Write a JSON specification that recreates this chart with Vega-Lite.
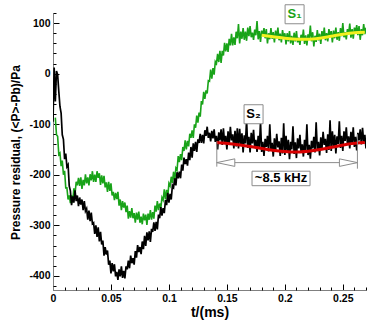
{
"$schema":"https://vega.github.io/schema/vega-lite/v6.json",
"width":313,"height":277,"autosize":"none",
"padding":{"left":53,"top":13,"right":8,"bottom":34},
"background":"white",
"config":{"view":{"stroke":null},"font":"Liberation Sans"},
"resolve":{"axis":{"x":"independent","y":"independent"}},
"datasets":{
"sig":[
{"t":0.000,"b":-95},{"t":0.001,"b":12},{"t":0.002,"a":-87,"b":-55},{"t":0.003,"a":-121,"b":5},{"t":0.004,"a":-124,"b":-2},{"t":0.005,"a":-160,"b":-35},{"t":0.006,"a":-157,"b":-65},{"t":0.007,"a":-183,"b":-78},{"t":0.008,"a":-172,"b":-121},{"t":0.009,"a":-200,"b":-130},
{"t":0.010,"a":-192,"b":-169},{"t":0.011,"a":-226,"b":-158},{"t":0.012,"a":-226,"b":-184},{"t":0.013,"a":-249,"b":-180},{"t":0.014,"a":-241,"b":-222},{"t":0.015,"a":-256,"b":-232},{"t":0.016,"a":-241,"b":-260},{"t":0.017,"a":-255,"b":-243},{"t":0.018,"a":-227,"b":-255},{"t":0.019,"a":-238,"b":-231},
{"t":0.020,"a":-214,"b":-252},{"t":0.021,"a":-221,"b":-241},{"t":0.022,"a":-206,"b":-262},{"t":0.023,"a":-222,"b":-245},{"t":0.024,"a":-205,"b":-259},{"t":0.025,"a":-228,"b":-249},{"t":0.026,"a":-210,"b":-270},{"t":0.027,"a":-221,"b":-252},{"t":0.028,"a":-199,"b":-272},{"t":0.029,"a":-217,"b":-267},
{"t":0.030,"a":-205,"b":-289},{"t":0.031,"a":-221,"b":-271},{"t":0.032,"a":-199,"b":-292},{"t":0.033,"a":-211,"b":-275},{"t":0.034,"a":-193,"b":-297},{"t":0.035,"a":-214,"b":-295},{"t":0.036,"a":-200,"b":-317},{"t":0.037,"a":-214,"b":-300},{"t":0.038,"a":-193,"b":-323},{"t":0.039,"a":-206,"b":-304},
{"t":0.040,"a":-197,"b":-332},{"t":0.041,"a":-220,"b":-313},{"t":0.042,"a":-201,"b":-338},{"t":0.043,"a":-217,"b":-330},{"t":0.044,"a":-202,"b":-360},{"t":0.045,"a":-225,"b":-343},{"t":0.046,"a":-215,"b":-358},{"t":0.047,"a":-234,"b":-350},{"t":0.048,"a":-214,"b":-378},{"t":0.049,"a":-232,"b":-370},
{"t":0.050,"a":-217,"b":-395},{"t":0.051,"a":-241,"b":-375},{"t":0.052,"a":-234,"b":-391},{"t":0.053,"a":-250,"b":-377},{"t":0.054,"a":-236,"b":-401},{"t":0.055,"a":-248,"b":-392},{"t":0.056,"a":-234,"b":-408},{"t":0.057,"a":-261,"b":-387},{"t":0.058,"a":-249,"b":-401},{"t":0.059,"a":-270,"b":-381},
{"t":0.060,"a":-252,"b":-404},{"t":0.061,"a":-265,"b":-390},{"t":0.062,"a":-255,"b":-405},{"t":0.063,"a":-274,"b":-381},{"t":0.064,"a":-261,"b":-387},{"t":0.065,"a":-287,"b":-370},{"t":0.066,"a":-272,"b":-385},{"t":0.067,"a":-285,"b":-360},{"t":0.068,"a":-266,"b":-375},{"t":0.069,"a":-286,"b":-365},
{"t":0.070,"a":-276,"b":-378},{"t":0.071,"a":-295,"b":-351},{"t":0.072,"a":-275,"b":-364},{"t":0.073,"a":-289,"b":-339},{"t":0.074,"a":-273,"b":-353},{"t":0.075,"a":-295,"b":-343},{"t":0.076,"a":-283,"b":-357},{"t":0.077,"a":-298,"b":-332},{"t":0.078,"a":-277,"b":-347},{"t":0.079,"a":-290,"b":-321},
{"t":0.080,"a":-279,"b":-341},{"t":0.081,"a":-299,"b":-314},{"t":0.082,"a":-277,"b":-330},{"t":0.083,"a":-289,"b":-312},{"t":0.084,"a":-270,"b":-333},{"t":0.085,"a":-289,"b":-307},{"t":0.086,"a":-274,"b":-313},{"t":0.087,"a":-287,"b":-294},{"t":0.088,"a":-261,"b":-311},{"t":0.089,"a":-273,"b":-293},
{"t":0.090,"a":-252,"b":-308},{"t":0.091,"a":-270,"b":-279},{"t":0.092,"a":-257,"b":-286},{"t":0.093,"a":-266,"b":-264},{"t":0.094,"a":-245,"b":-281},{"t":0.095,"a":-250,"b":-266},{"t":0.096,"a":-229,"b":-276},{"t":0.097,"a":-249,"b":-250},{"t":0.098,"a":-230,"b":-260},{"t":0.099,"a":-243,"b":-236},
{"t":0.100,"a":-217,"b":-255},{"t":0.101,"a":-222,"b":-238},{"t":0.102,"a":-204,"b":-249},{"t":0.103,"a":-216,"b":-221},{"t":0.104,"a":-194,"b":-225},{"t":0.105,"a":-211,"b":-207},{"t":0.106,"a":-187,"b":-221},{"t":0.107,"a":-191,"b":-195},{"t":0.108,"a":-163,"b":-207},{"t":0.109,"a":-175,"b":-194},
{"t":0.110,"a":-159,"b":-207},{"t":0.111,"a":-171,"b":-180},{"t":0.112,"a":-145,"b":-192},{"t":0.113,"a":-153,"b":-166},{"t":0.114,"a":-132,"b":-179},{"t":0.115,"a":-150,"b":-169},{"t":0.116,"a":-133,"b":-182},{"t":0.117,"a":-144,"b":-156},{"t":0.118,"a":-119,"b":-171},{"t":0.119,"a":-127,"b":-145},
{"t":0.120,"a":-112,"b":-166},{"t":0.121,"a":-127,"b":-138},{"t":0.122,"a":-100,"b":-153},{"t":0.123,"a":-107,"b":-135},{"t":0.124,"a":-83,"b":-155},{"t":0.125,"a":-97,"b":-130},{"t":0.126,"a":-77,"b":-137},{"t":0.127,"a":-85,"b":-119},{"t":0.128,"a":-54,"b":-137},{"t":0.129,"a":-61,"b":-121},
{"t":0.130,"a":-36,"b":-138},{"t":0.131,"a":-50,"b":-112},{"t":0.132,"a":-33,"b":-123},{"t":0.133,"a":-39,"b":-105},{"t":0.134,"a":-14,"b":-127},{"t":0.135,"a":-15,"b":-117},{"t":0.136,"a":8,"b":-134},{"t":0.137,"a":-10,"b":-113},{"t":0.138,"a":11,"b":-128},{"t":0.139,"a":-2,"b":-110},
{"t":0.140,"a":24,"b":-135},{"t":0.141,"a":20,"b":-123},{"t":0.142,"a":39,"b":-150},{"t":0.143,"a":23,"b":-116},{"t":0.144,"a":45,"b":-132},{"t":0.145,"a":21,"b":-110},{"t":0.146,"a":45,"b":-141},{"t":0.147,"a":36,"b":-108},{"t":0.148,"a":61,"b":-137},{"t":0.149,"a":44,"b":-123},
{"t":0.150,"a":60,"b":-150},{"t":0.151,"a":43,"b":-114},{"t":0.152,"a":69,"b":-138},{"t":0.153,"a":56,"b":-105},{"t":0.154,"a":79,"b":-132},{"t":0.155,"a":56,"b":-120},{"t":0.156,"a":72,"b":-148},{"t":0.157,"a":57,"b":-113},{"t":0.158,"a":83,"b":-144},{"t":0.159,"a":70,"b":-108},
{"t":0.160,"a":98,"b":-148},{"t":0.161,"a":60,"b":-109},{"t":0.162,"a":83,"b":-140},{"t":0.163,"a":69,"b":-118},{"t":0.164,"a":90,"b":-156},{"t":0.165,"a":67,"b":-122},{"t":0.166,"a":83,"b":-138},{"t":0.167,"a":65,"b":-92},{"t":0.168,"a":91,"b":-147},{"t":0.169,"a":74,"b":-125},
{"t":0.170,"a":94,"b":-156},{"t":0.171,"a":72,"b":-117},{"t":0.172,"a":81,"b":-138},{"t":0.173,"a":67,"b":-111},{"t":0.174,"a":87,"b":-146},{"t":0.175,"a":76,"b":-131},{"t":0.176,"a":104,"b":-155},{"t":0.177,"a":68,"b":-123},{"t":0.178,"a":84,"b":-146},{"t":0.179,"a":63,"b":-95},
{"t":0.180,"a":85,"b":-155},{"t":0.181,"a":76,"b":-135},{"t":0.182,"a":90,"b":-163},{"t":0.183,"a":70,"b":-129},{"t":0.184,"a":88,"b":-145},{"t":0.185,"a":60,"b":-123},{"t":0.186,"a":80,"b":-154},{"t":0.187,"a":68,"b":-100},{"t":0.188,"a":90,"b":-150},{"t":0.189,"a":69,"b":-137},
{"t":0.190,"a":82,"b":-164},{"t":0.191,"a":62,"b":-128},{"t":0.192,"a":85,"b":-153},{"t":0.193,"a":70,"b":-119},{"t":0.194,"a":91,"b":-146},{"t":0.195,"a":66,"b":-134},{"t":0.196,"a":79,"b":-163},{"t":0.197,"a":62,"b":-127},{"t":0.198,"a":86,"b":-158},{"t":0.199,"a":71,"b":-98},
{"t":0.200,"a":80,"b":-161},{"t":0.201,"a":58,"b":-123},{"t":0.202,"a":80,"b":-154},{"t":0.203,"a":64,"b":-131},{"t":0.204,"a":84,"b":-169},{"t":0.205,"a":60,"b":-135},{"t":0.206,"a":75,"b":-150},{"t":0.207,"a":57,"b":-104},{"t":0.208,"a":81,"b":-159},{"t":0.209,"a":64,"b":-136},
{"t":0.210,"a":84,"b":-167},{"t":0.211,"a":62,"b":-128},{"t":0.212,"a":71,"b":-148},{"t":0.213,"a":57,"b":-121},{"t":0.214,"a":77,"b":-155},{"t":0.215,"a":66,"b":-140},{"t":0.216,"a":87,"b":-164},{"t":0.217,"a":59,"b":-131},{"t":0.218,"a":76,"b":-154},{"t":0.219,"a":56,"b":-100},
{"t":0.220,"a":78,"b":-161},{"t":0.221,"a":69,"b":-141},{"t":0.222,"a":95,"b":-168},{"t":0.223,"a":64,"b":-133},{"t":0.224,"a":82,"b":-148},{"t":0.225,"a":54,"b":-125},{"t":0.226,"a":75,"b":-156},{"t":0.227,"a":63,"b":-96},{"t":0.228,"a":86,"b":-150},{"t":0.229,"a":66,"b":-135},
{"t":0.230,"a":79,"b":-162},{"t":0.231,"a":59,"b":-126},{"t":0.232,"a":84,"b":-149},{"t":0.233,"a":69,"b":-115},{"t":0.234,"a":91,"b":-141},{"t":0.235,"a":66,"b":-129},{"t":0.236,"a":80,"b":-157},{"t":0.237,"a":64,"b":-120},{"t":0.238,"a":88,"b":-151},{"t":0.239,"a":75,"b":-92},
{"t":0.240,"a":84,"b":-153},{"t":0.241,"a":62,"b":-114},{"t":0.242,"a":85,"b":-144},{"t":0.243,"a":70,"b":-121},{"t":0.244,"a":91,"b":-158},{"t":0.245,"a":67,"b":-124},{"t":0.246,"a":82,"b":-139},{"t":0.247,"a":65,"b":-94},{"t":0.248,"a":90,"b":-147},{"t":0.249,"a":74,"b":-123},
{"t":0.250,"a":100,"b":-153},{"t":0.251,"a":72,"b":-114},{"t":0.252,"a":82,"b":-133},{"t":0.253,"a":68,"b":-106},{"t":0.254,"a":88,"b":-139},{"t":0.255,"a":78,"b":-124},{"t":0.256,"a":99,"b":-148},{"t":0.257,"a":71,"b":-115},{"t":0.258,"a":88,"b":-137},{"t":0.259,"a":69,"b":-106},
{"t":0.260,"a":91,"b":-145},{"t":0.261,"a":82,"b":-125},{"t":0.262,"a":96,"b":-152},{"t":0.263,"a":76,"b":-117},{"t":0.264,"a":94,"b":-132},{"t":0.265,"a":67,"b":-110},{"t":0.266,"a":88,"b":-140},{"t":0.267,"a":76,"b":-107},{"t":0.268,"a":98,"b":-135},{"t":0.269,"a":78,"b":-121},
{"t":0.270,"a":91,"b":-148}
],
"fitY":[{"t":0.180,"v":76},{"t":0.190,"v":73},{"t":0.200,"v":70},{"t":0.210,"v":68},{"t":0.220,"v":68},{"t":0.230,"v":70},{"t":0.240,"v":74},{"t":0.250,"v":78},{"t":0.260,"v":81},{"t":0.269,"v":82}],
"fitR":[{"t":0.141,"v":-136},{"t":0.155,"v":-139},{"t":0.170,"v":-144},{"t":0.185,"v":-150},{"t":0.200,"v":-154},{"t":0.210,"v":-155},{"t":0.225,"v":-152},{"t":0.242,"v":-145},{"t":0.255,"v":-139},{"t":0.269,"v":-136}],
"boxes":[{"t":0.2084,"v":117.5},{"t":0.173,"v":-80.3}],
"wide":[{"t":0.1967,"v":-207.3}],
"labels":[{"t":0.2084,"v":117.5,"txt":"S₁","c":"g"},{"t":0.173,"v":-80.3,"txt":"S₂","c":"k"},{"t":0.1967,"v":-207.3,"txt":"~8.5 kHz","c":"k"}],
"hrule":[{"t":0.1413,"t2":0.2626,"v":-176}],
"vrules":[{"t":0.1413,"v":-134,"v2":-184},{"t":0.2626,"v":-120,"v2":-188}],
"heads":[{"t":0.1413,"v":-176,"d":"L"},{"t":0.2626,"v":-176,"d":"R"}]
},
"layer":[
{"data":{"name":"sig"},"mark":{"type":"line","color":"#19a319","strokeWidth":1.6,"clip":true},
 "encoding":{
  "x":{"field":"t","type":"quantitative","scale":{"domain":[0,0.27],"nice":false,"zero":false},
   "axis":{"orient":"bottom","title":"t/(ms)","values":[0,0.05,0.1,0.15,0.2,0.25],
    "labelExpr":"format(datum.value,'~g')",
    "tickSize":-6,"labelPadding":9,"labelOverlap":false,"labelFlush":false,"grid":false,
    "domainColor":"#808080","tickColor":"#000000","labelColor":"#000000",
    "labelFont":"Liberation Sans","labelFontWeight":"bold","labelFontSize":10.5,
    "titleFont":"Liberation Sans","titleFontWeight":"bold","titleFontSize":14,"titleColor":"#000000",
    "titleY":26,"titleBaseline":"alphabetic"}},
  "y":{"field":"a","type":"quantitative","scale":{"domain":[-428,120],"nice":false,"zero":false},
   "axis":{"orient":"left","title":"Pressure residual, (<P>-Pb)/Pa",
    "values":[-400,-300,-200,-100,0,100],
    "labelExpr":"'' + datum.value",
    "tickSize":-6,"labelPadding":9,"labelOverlap":false,"labelFlush":false,"grid":false,
    "domainColor":"#808080","tickColor":"#000000","labelColor":"#000000",
    "labelFont":"Liberation Sans","labelFontWeight":"bold","labelFontSize":10.5,
    "titleFont":"Liberation Sans","titleFontWeight":"bold","titleFontSize":12,"titleColor":"#000000",
    "titleX":-38,"titleY":139,"titleAlign":"center","titleBaseline":"middle","titleAngle":-90}}
 }},
{"data":{"name":"sig"},"mark":{"type":"line","color":"#000000","strokeWidth":1.7,"clip":true},
 "encoding":{
  "x":{"field":"t","type":"quantitative",
   "axis":{"orient":"bottom","title":null,"labels":false,"domain":false,"grid":false,"tickSize":-3,"tickColor":"#000000",
    "values":[0.01,0.02,0.03,0.04,0.06,0.07,0.08,0.09,0.11,0.12,0.13,0.14,0.16,0.17,0.18,0.19,0.21,0.22,0.23,0.24,0.26,0.27]}},
  "y":{"field":"b","type":"quantitative",
   "axis":{"orient":"left","title":null,"labels":false,"domain":false,"grid":false,"tickSize":-3,"tickColor":"#000000",
    "values":[-420,-380,-360,-340,-320,-280,-260,-240,-220,-180,-160,-140,-120,-80,-60,-40,-20,20,40,60,80,120]}}}},
{"data":{"name":"fitY"},"mark":{"type":"line","color":"#f2f020","strokeWidth":3,"interpolate":"monotone"},
 "encoding":{"x":{"field":"t","type":"quantitative","axis":null},"y":{"field":"v","type":"quantitative","axis":null}}},
{"data":{"name":"fitR"},"mark":{"type":"line","color":"#d80000","strokeWidth":3,"interpolate":"monotone"},
 "encoding":{"x":{"field":"t","type":"quantitative","axis":null},"y":{"field":"v","type":"quantitative","axis":null}}},
{"data":{"name":"hrule"},"mark":{"type":"rule","color":"#8c8c8c","strokeWidth":1},
 "encoding":{"x":{"field":"t","type":"quantitative","axis":null},"x2":{"field":"t2"},"y":{"field":"v","type":"quantitative","axis":null}}},
{"data":{"name":"vrules"},"mark":{"type":"rule","color":"#8c8c8c","strokeWidth":1},
 "encoding":{"x":{"field":"t","type":"quantitative","axis":null},"y":{"field":"v","type":"quantitative","axis":null},"y2":{"field":"v2"}}},
{"data":{"name":"heads"},"mark":{"type":"point","filled":true,"fill":"white","stroke":"#8c8c8c","strokeWidth":1,"opacity":1,"size":324},
 "encoding":{"x":{"field":"t","type":"quantitative","axis":null},"y":{"field":"v","type":"quantitative","axis":null},
  "shape":{"field":"d","type":"nominal","legend":null,"scale":{"domain":["L","R"],"range":["M 0 0 L 2 -0.42 L 2 0.42 Z","M 0 0 L -2 -0.42 L -2 0.42 Z"]}}}},
{"data":{"name":"boxes"},"mark":{"type":"point","shape":"square","filled":true,"fill":"white","stroke":"#8c8c8c","strokeWidth":1,"opacity":1,"size":361},
 "encoding":{"x":{"field":"t","type":"quantitative","axis":null},"y":{"field":"v","type":"quantitative","axis":null}}},
{"data":{"name":"wide"},"mark":{"type":"point","shape":"M -1 -0.25 L 1 -0.25 L 1 0.25 L -1 0.25 Z","filled":true,"fill":"white","stroke":"#8c8c8c","strokeWidth":1,"opacity":1,"size":3364},
 "encoding":{"x":{"field":"t","type":"quantitative","axis":null},"y":{"field":"v","type":"quantitative","axis":null}}},
{"data":{"name":"labels"},"mark":{"type":"text","font":"Liberation Sans","fontWeight":"bold","fontSize":13,"align":"center","baseline":"middle"},
 "encoding":{"x":{"field":"t","type":"quantitative","axis":null},"y":{"field":"v","type":"quantitative","axis":null},"text":{"field":"txt"},
  "color":{"field":"c","type":"nominal","legend":null,"scale":{"domain":["g","k"],"range":["#19a319","#000000"]}}}}
]
}
